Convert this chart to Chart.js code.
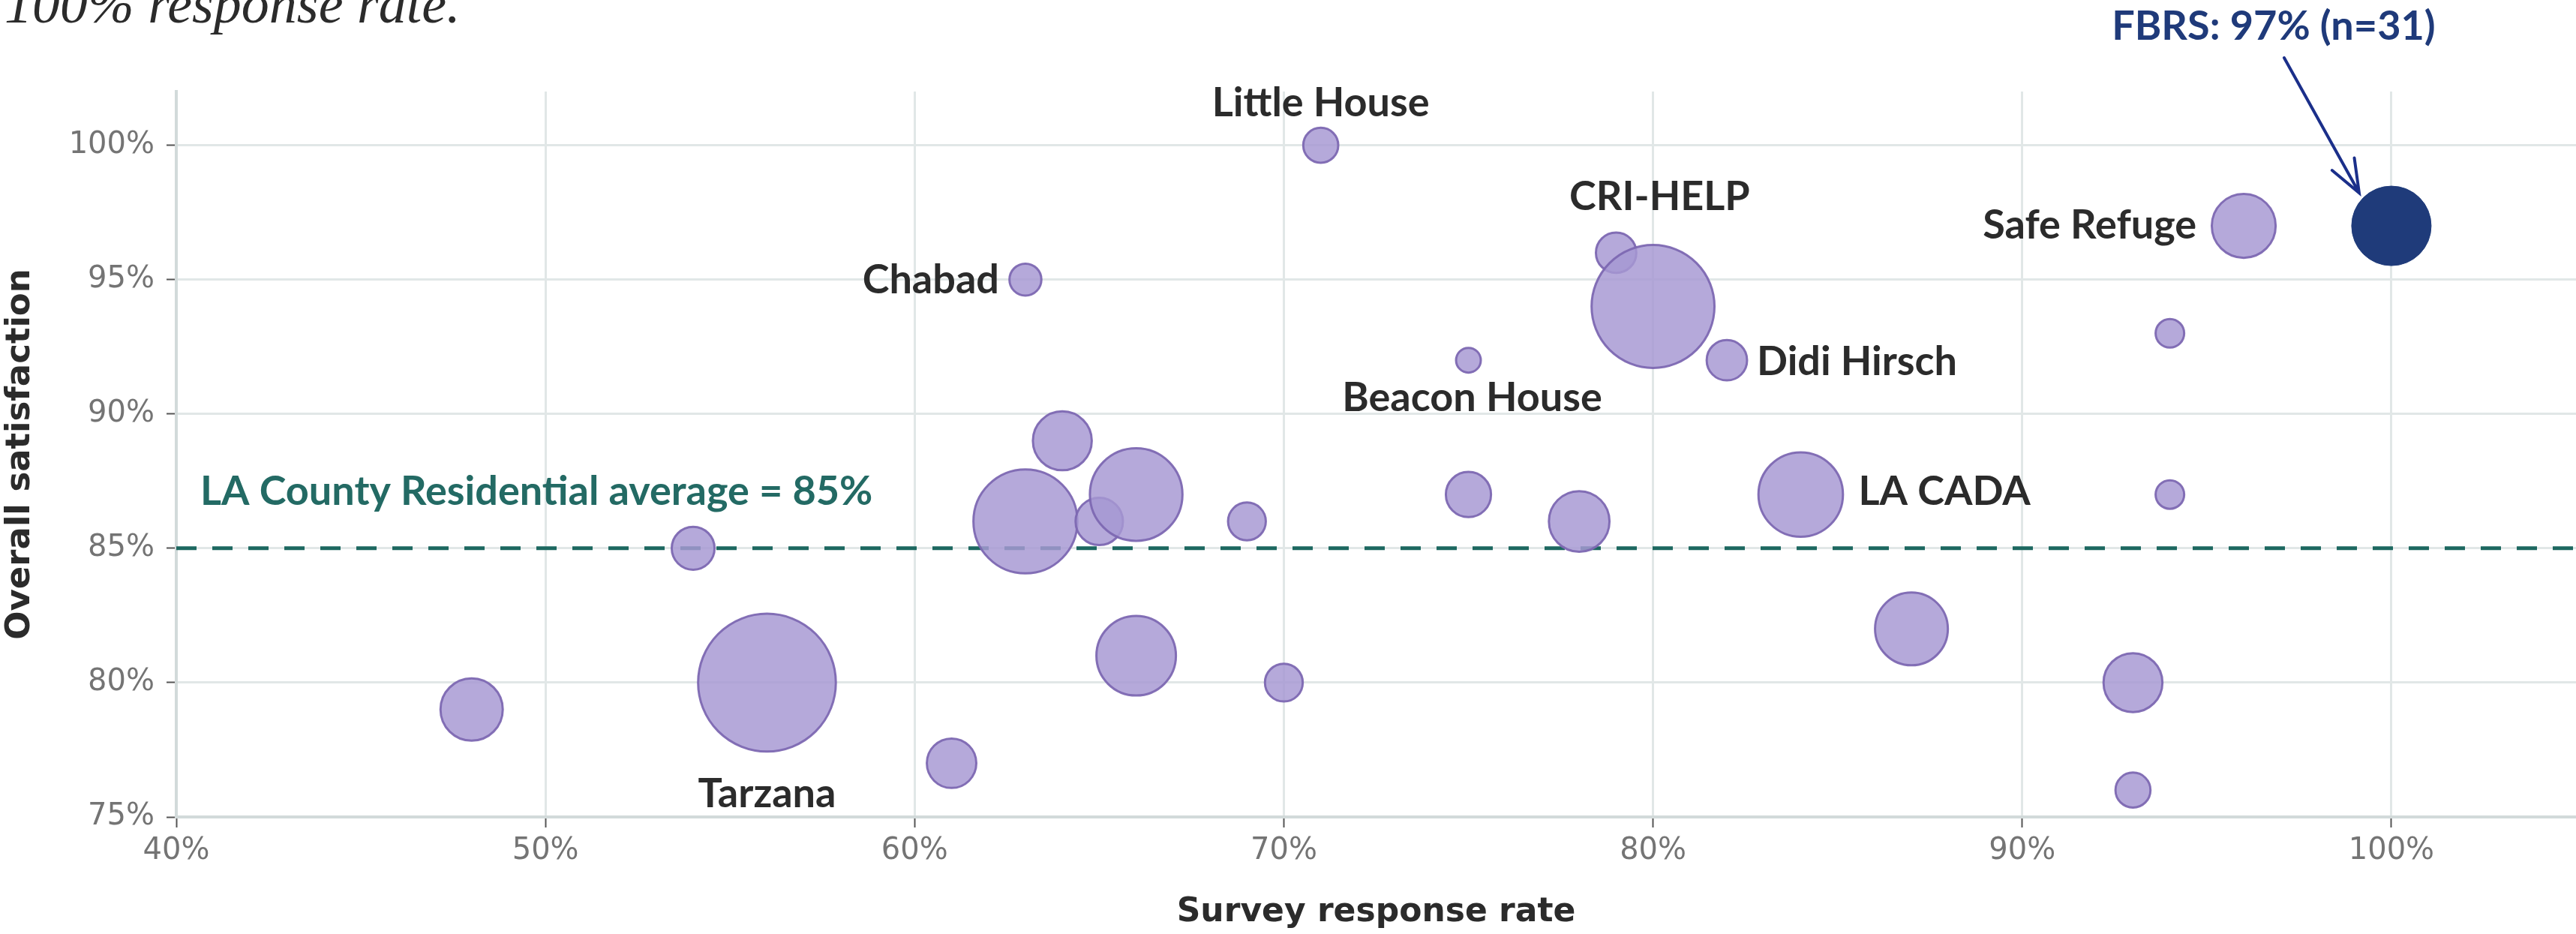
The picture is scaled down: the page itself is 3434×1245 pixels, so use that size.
<!DOCTYPE html>
<html>
<head>
<meta charset="utf-8">
<script src="https://cdn.jsdelivr.net/npm/chart.js@4.4.1/dist/chart.umd.min.js"></script>
<style>
  html, body { margin: 0; padding: 0; background: #fff; }
  #wrap { width: 3434px; height: 1245px; position: relative; }
</style>
</head>
<body>
<div id="wrap"><canvas id="bubbles"></canvas></div>
<script>
// programs (blank = unlabelled), response rate %, overall satisfaction %, respondents
var programs = ["Little House", "Chabad", "CRI-HELP", "", "Beacon House", "Didi Hirsch", "Safe Refuge", "", "", "LA CADA",
                "", "", "", "", "", "", "", "", "", "",
                "Tarzana", "", "", "", "", ""];
var responseRate = [71, 63, 79, 80, 75, 82, 96, 94, 94, 84,
                    87, 93, 93, 78, 75, 69, 70, 66, 61, 48,
                    56, 54, 63, 65, 66, 64];
var satisfaction = [100, 95, 96, 94, 92, 92, 97, 93, 87, 87,
                    82, 80, 76, 86, 87, 86, 80, 81, 77, 79,
                    80, 85, 86, 86, 87, 89];
var respondents = [6, 5, 8, 74, 3, 8, 20, 4, 4, 35,
                   26, 17, 6, 18, 10, 7, 7, 31, 12, 19,
                   93, 9, 53, 11, 42, 17];

var fbrsRate = 100;
var fbrsSatisfaction = 97;
var fbrsRespondents = 31;

var countyAverage = 85;

var xRange = [40, 105];
var yRange = [75, 102];

// bubble area grows with respondents
var bubbleScale = 9.52;

var labelFont = 'bold 54px Lato, "Open Sans", sans-serif';

// where each name sits relative to its bubble (pixels)
var labelPlacement = {
    "Little House": { align: "center", dx: 0, dy: -39 },
    "Chabad": { align: "right", dx: -35, dy: 18 },
    "CRI-HELP": { align: "center", dx: 58, dy: -57 },
    "Didi Hirsch": { align: "left", dx: 40, dy: 20 },
    "Beacon House": { align: "center", dx: 5, dy: 68 },
    "Safe Refuge": { align: "right", dx: -63, dy: 17 },
    "LA CADA": { align: "left", dx: 77, dy: 14 },
    "Tarzana": { align: "center", dx: 0, dy: 166 }
};

var points = responseRate.map(function (x, i) {
    return { x: x, y: satisfaction[i], r: bubbleScale * Math.sqrt(respondents[i]) };
});

var annotations = {
    id: "annotations",
    afterDatasetsDraw: function (chart) {
        var ctx = chart.ctx;
        var xs = chart.scales.x;
        var ys = chart.scales.y;
        ctx.save();

        ctx.font = labelFont;
        ctx.fillStyle = "#2b2b2b";
        ctx.textBaseline = "alphabetic";
        programs.forEach(function (name, i) {
            if (!name) return;
            var p = labelPlacement[name];
            ctx.textAlign = p.align;
            ctx.fillText(name, xs.getPixelForValue(responseRate[i]) + p.dx, ys.getPixelForValue(satisfaction[i]) + p.dy);
        });

        // average label
        ctx.fillStyle = "#236a64";
        ctx.textAlign = "left";
        ctx.fillText("LA County Residential average = " + countyAverage + "%",
            xs.getPixelForValue(xRange[0]) + 32, ys.getPixelForValue(countyAverage) - 58);

        // FBRS callout
        var fx = xs.getPixelForValue(fbrsRate);
        var fy = ys.getPixelForValue(fbrsSatisfaction);
        ctx.fillStyle = "#1f3a7a";
        ctx.textAlign = "center";
        ctx.fillText("FBRS: " + fbrsSatisfaction + "% (n=" + fbrsRespondents + ")", fx - 157, fy - 248);

        var sx = fx - 143, sy = fy - 224, tx = fx - 43, ty = fy - 44;
        var ang = Math.atan2(sy - ty, sx - tx);
        ctx.strokeStyle = "#1b2f8a";
        ctx.lineWidth = 4;
        ctx.lineCap = "round";
        ctx.beginPath();
        ctx.moveTo(sx, sy);
        ctx.lineTo(tx, ty);
        ctx.moveTo(tx + 47 * Math.cos(ang - 0.37), ty + 47 * Math.sin(ang - 0.37));
        ctx.lineTo(tx, ty);
        ctx.lineTo(tx + 47 * Math.cos(ang + 0.37), ty + 47 * Math.sin(ang + 0.37));
        ctx.stroke();

        // tail of the slide text above the chart
        ctx.font = 'italic 74px "Liberation Serif", serif';
        ctx.fillStyle = "#2b2b2b";
        ctx.textAlign = "left";
        ctx.fillText("100% response rate.", 6, 30);
        ctx.restore();
    }
};

new Chart(document.getElementById("bubbles").getContext("2d"), {
    type: "bubble",
    data: {
        datasets: [
            {
                label: "Programs",
                data: points,
                backgroundColor: "rgba(167,152,211,0.84)",
                borderColor: "rgba(125,104,178,0.95)",
                borderWidth: 3,
                order: 2
            },
            {
                label: "FBRS",
                data: [{ x: fbrsRate, y: fbrsSatisfaction, r: bubbleScale * Math.sqrt(fbrsRespondents) }],
                backgroundColor: "#1f3b7a",
                borderColor: "#1f3b7a",
                borderWidth: 1,
                order: 1
            },
            {
                type: "line",
                label: "LA County Residential average",
                data: [{ x: xRange[0], y: countyAverage }, { x: xRange[1], y: countyAverage }],
                borderColor: "#1d6860",
                borderWidth: 5,
                borderDash: [27, 21],
                pointRadius: 0,
                fill: false,
                order: 3
            }
        ]
    },
    options: {
        responsive: true,
        maintainAspectRatio: false,
        animation: false,
        events: [],
        layout: { autoPadding: false, padding: { top: 122, right: 0, bottom: 0, left: 0 } },
        plugins: {
            legend: { display: false },
            tooltip: { enabled: false }
        },
        scales: {
            x: {
                type: "linear",
                min: xRange[0],
                max: xRange[1],
                afterFit: function (scale) {
                    scale.height = 156;
                    scale.paddingLeft = 0;
                    scale.paddingRight = 0;
                },
                ticks: {
                    stepSize: 10,
                    includeBounds: false,
                    padding: 8,
                    color: "#747474",
                    font: { family: "DejaVu Sans", size: 40 },
                    callback: function (v) { return v + "%"; }
                },
                grid: { color: "#e1e7e7", lineWidth: 3, tickColor: "#555", tickWidth: 2, tickLength: 14 },
                border: { color: "#d2dada", width: 4 },
                title: {
                    display: true,
                    text: "Survey response rate",
                    color: "#2b2b2b",
                    font: { family: "DejaVu Sans", size: 44, weight: "bold" },
                    padding: { top: 0, bottom: 2 }
                }
            },
            y: {
                type: "linear",
                min: yRange[0],
                max: yRange[1],
                afterFit: function (scale) {
                    scale.width = 235;
                    scale.paddingTop = 0;
                    scale.paddingBottom = 0;
                },
                ticks: {
                    stepSize: 5,
                    includeBounds: false,
                    padding: 16,
                    color: "#747474",
                    font: { family: "DejaVu Sans", size: 40 },
                    callback: function (v) { return v + "%"; }
                },
                grid: { color: "#e1e7e7", lineWidth: 3, tickColor: "#555", tickWidth: 2, tickLength: 13 },
                border: { color: "#d2dada", width: 4 },
                title: {
                    display: true,
                    text: "Overall satisfaction",
                    color: "#2b2b2b",
                    font: { family: "DejaVu Sans", size: 45, weight: "bold" },
                    padding: { top: 0, bottom: 0 }
                }
            }
        }
    },
    plugins: [annotations]
});
</script>
</body>
</html>
